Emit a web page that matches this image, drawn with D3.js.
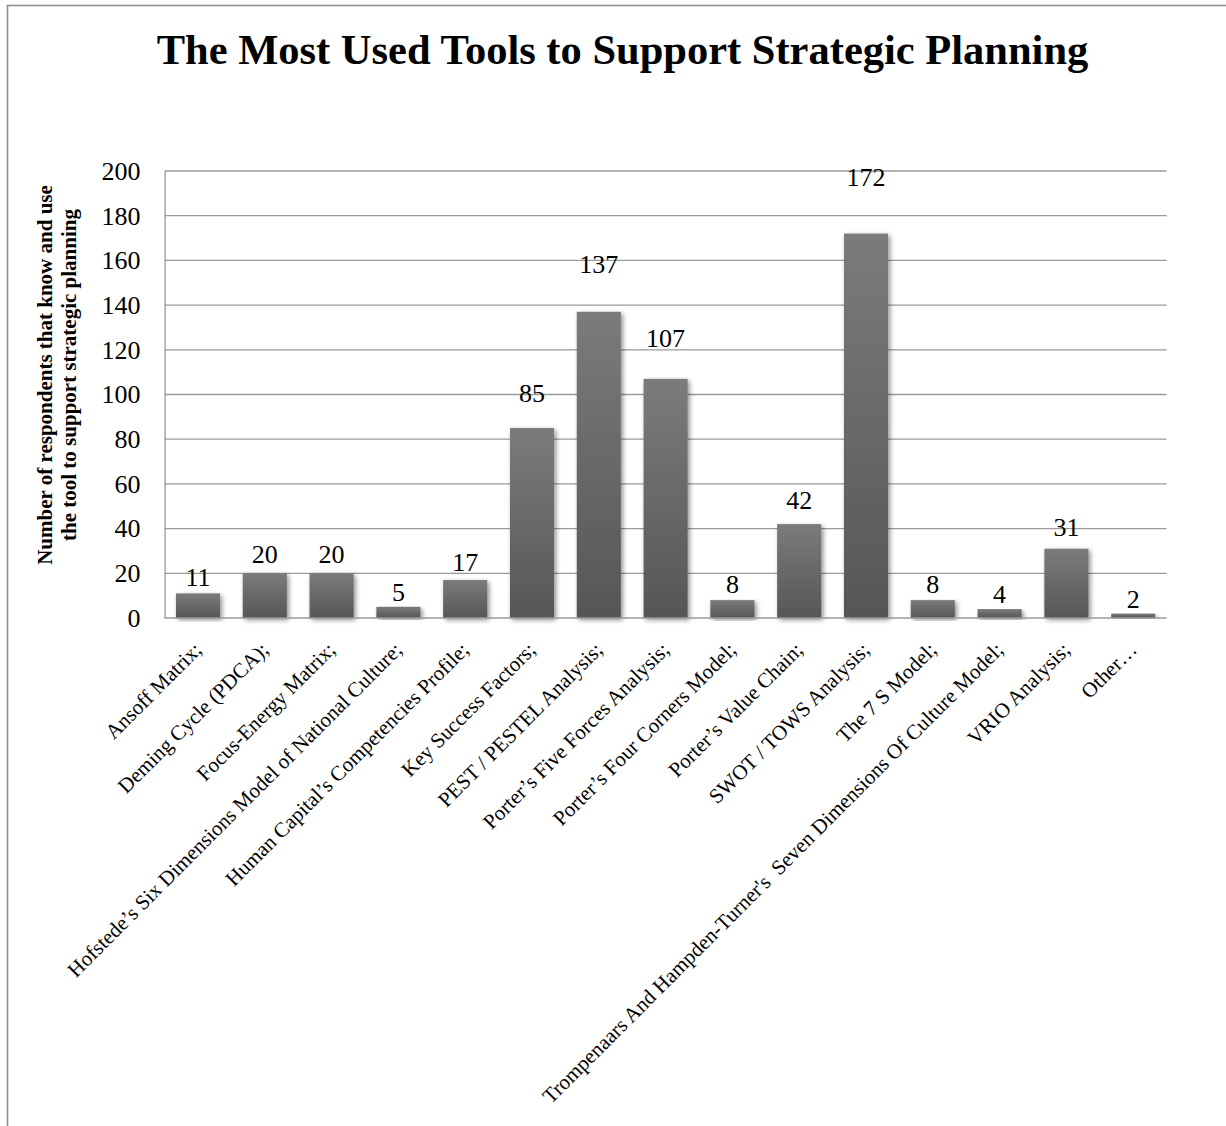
<!DOCTYPE html>
<html>
<head>
<meta charset="utf-8">
<script src="https://cdn.jsdelivr.net/npm/d3@7"></script>
<style>
  html, body { margin: 0; padding: 0; background: #fff; }
  svg { display: block; font-family: "Liberation Serif", "Times New Roman", serif; }
</style>
</head>
<body>
<svg id="chart" width="1226" height="1126"></svg>
<script>
// Survey results: tools respondents know and use for strategic planning
const categories = [
  "Ansoff Matrix;",
  "Deming Cycle (PDCA);",
  "Focus-Energy Matrix;",
  "Hofstede\u2019s Six Dimensions Model of National Culture;",
  "Human Capital\u2019s Competencies Profile;",
  "Key Success Factors;",
  "PEST / PESTEL Analysis;",
  "Porter\u2019s Five Forces Analysis;",
  "Porter\u2019s Four Corners Model;",
  "Porter\u2019s Value Chain;",
  "SWOT / TOWS Analysis;",
  "The 7 S Model;",
  "Trompenaars And Hampden-Turner's  Seven Dimensions Of Culture Model;",
  "VRIO Analysis;",
  "Other\u2026"
];
const values = [11, 20, 20, 5, 17, 85, 137, 107, 8, 42, 172, 8, 4, 31, 2];
const yTicks = [0, 20, 40, 60, 80, 100, 120, 140, 160, 180, 200];

const title = "The Most Used Tools to Support Strategic Planning";
const yTitleLines = ["Number of respondents that know and use", "the tool to support strategic planning"];

const data = categories.map((c, i) => ({ name: c, value: values[i] }));

const serif = "\"Liberation Serif\", \"Times New Roman\", serif";
const svg = d3.select("#chart");
const plot = { left: 164.6, right: 1166.6, top: 171, bottom: 618 };

const x = d3.scaleBand()
  .domain(categories)
  .range([plot.left, plot.right])
  .paddingInner(0.34)
  .paddingOuter(0.17);

const y = d3.scaleLinear()
  .domain([0, 200])
  .range([plot.bottom, plot.top]);

// defs: bar gradient + soft shadow
const defs = svg.append("defs");
const grad = defs.append("linearGradient")
  .attr("id", "barGrad")
  .attr("x1", 0).attr("y1", 0).attr("x2", 0).attr("y2", 1);
grad.append("stop").attr("offset", "0%").attr("stop-color", "#7b7b7b");
grad.append("stop").attr("offset", "100%").attr("stop-color", "#565656");

const shadow = defs.append("filter")
  .attr("id", "barShadow")
  .attr("x", "-30%").attr("y", "-10%").attr("width", "160%").attr("height", "125%");
shadow.append("feGaussianBlur").attr("in", "SourceAlpha").attr("stdDeviation", 2.6).attr("result", "blur");
shadow.append("feOffset").attr("in", "blur").attr("dx", 1.5).attr("dy", 1.5).attr("result", "off");
shadow.append("feComponentTransfer").attr("in", "off").attr("result", "shade")
  .append("feFuncA").attr("type", "linear").attr("slope", 0.45);
const merge = shadow.append("feMerge");
merge.append("feMergeNode").attr("in", "shade");
merge.append("feMergeNode").attr("in", "SourceGraphic");

// outer frame
svg.append("rect")
  .attr("x", 7.5).attr("y", 5.5)
  .attr("width", 1240).attr("height", 1140)
  .attr("fill", "none")
  .attr("stroke", "#8f8f8f")
  .attr("stroke-width", 1.6);

// title
svg.append("text")
  .attr("x", 622.5)
  .attr("y", 64)
  .attr("text-anchor", "middle")
  .attr("font-size", 42.5)
  .attr("font-weight", "bold")
  .attr("fill", "#000")
  .text(title);

// horizontal gridlines
svg.append("g")
  .selectAll("line")
  .data(yTicks.filter(t => t > 0))
  .join("line")
  .attr("x1", plot.left).attr("x2", plot.right)
  .attr("y1", d => y(d)).attr("y2", d => y(d))
  .attr("stroke", "#9a9a9a")
  .attr("stroke-width", 1.3);

// y axis
const yAxis = svg.append("g")
  .attr("transform", `translate(${plot.left},0)`)
  .call(d3.axisLeft(y).tickValues(yTicks).tickSize(0).tickPadding(24));
yAxis.attr("font-family", serif);
yAxis.select(".domain").attr("stroke", "#9a9a9a").attr("stroke-width", 1.3);
yAxis.selectAll("text")
  .attr("font-family", serif)
  .attr("font-size", 26)
  .attr("fill", "#000");

// y axis title
const yTitle = svg.append("text")
  .attr("transform", "translate(52,375) rotate(-90)")
  .attr("text-anchor", "middle")
  .attr("font-size", 21)
  .attr("font-weight", "bold")
  .attr("fill", "#000");
yTitle.selectAll("tspan")
  .data(yTitleLines)
  .join("tspan")
  .attr("x", 0)
  .attr("dy", (d, i) => i === 0 ? 0 : 24)
  .text(d => d);

// bars
svg.append("g")
  .selectAll("rect")
  .data(data)
  .join("rect")
  .attr("x", d => x(d.name))
  .attr("y", d => y(d.value))
  .attr("width", x.bandwidth())
  .attr("height", d => y(0) - y(d.value))
  .attr("fill", "url(#barGrad)")
  .attr("filter", "url(#barShadow)");

// x axis baseline
svg.append("line")
  .attr("x1", plot.left).attr("x2", plot.right)
  .attr("y1", plot.bottom).attr("y2", plot.bottom)
  .attr("stroke", "#9a9a9a")
  .attr("stroke-width", 1.3);

// value labels; their height above each bar grows with the value
svg.append("g")
  .selectAll("text")
  .data(data)
  .join("text")
  .attr("x", d => x(d.name) + x.bandwidth() / 2)
  .attr("y", d => y(d.value * 1.11 + 6.3) + 9)
  .attr("text-anchor", "middle")
  .attr("font-size", 26)
  .attr("fill", "#000")
  .text(d => d.value);

// rotated category labels
svg.append("g")
  .selectAll("text")
  .data(data)
  .join("text")
  .attr("transform", d => `translate(${x(d.name) + x.bandwidth() / 2 + 5},${plot.bottom + 33}) rotate(-45)`)
  .attr("text-anchor", "end")
  .attr("font-size", 21)
  .attr("fill", "#000")
  .style("white-space", "pre")
  .text(d => d.name);
</script>
</body>
</html>
